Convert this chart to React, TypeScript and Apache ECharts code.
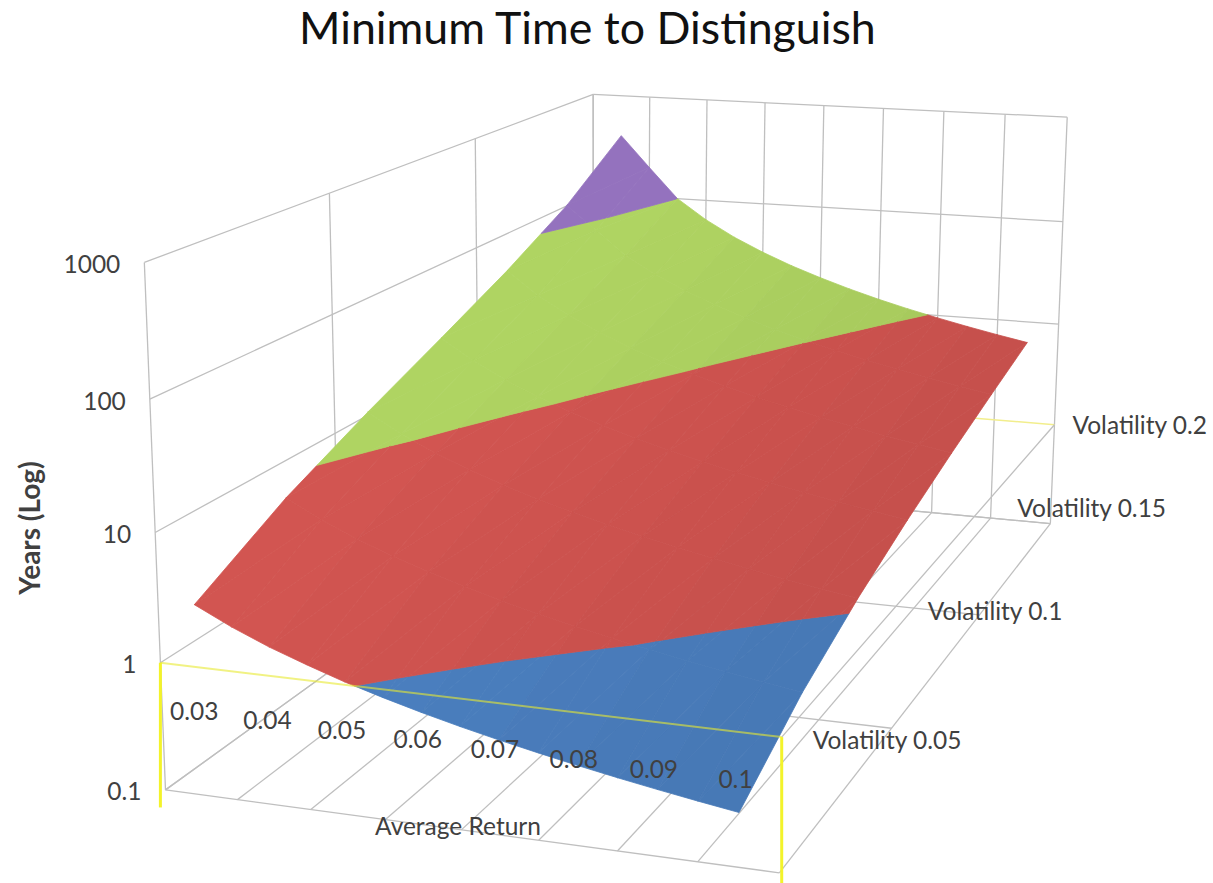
import React, { useEffect, useRef } from "react";
import * as echarts from "echarts";

// Tick labels of the three axes
const yearTicks = [0.1, 1, 10, 100, 1000];
const returnLabels = ["0.03", "0.04", "0.05", "0.06", "0.07", "0.08", "0.09", "0.1"];
const volatilityLabels = ["Volatility 0.05", "Volatility 0.1", "Volatility 0.15", "Volatility 0.2"];

// Mesh positions of the surface
const meshReturns = [0.03, 0.035, 0.04, 0.045, 0.05, 0.055, 0.06, 0.065, 0.07, 0.075, 0.08, 0.085, 0.09, 0.095, 0.1];
const meshVolatilities = [0.05, 0.075, 0.1, 0.125, 0.15, 0.175, 0.2];

// Years needed, one list per volatility, in order of average return
const yearsVol050 = [3.02, 2.19, 1.66, 1.31, 1.05, 0.865, 0.724, 0.615, 0.529, 0.46, 0.403, 0.356, 0.317, 0.284, 0.256];
const yearsVol075 = [7.61, 5.43, 4.07, 3.16, 2.53, 2.07, 1.72, 1.45, 1.25, 1.08, 0.944, 0.833, 0.74, 0.662, 0.596];
const yearsVol100 = [16, 11.1, 8.16, 6.25, 4.94, 4, 3.31, 2.78, 2.37, 2.04, 1.78, 1.56, 1.38, 1.23, 1.11];
const yearsVol125 = [31.7, 21.1, 15.1, 11.3, 8.78, 7.02, 5.74, 4.78, 4.04, 3.46, 3, 2.62, 2.31, 2.06, 1.84];
const yearsVol150 = [64, 39.9, 27.2, 19.8, 15, 11.8, 9.47, 7.79, 6.52, 5.54, 4.76, 4.14, 3.63, 3.21, 2.86];
const yearsVol175 = [142, 85, 50.3, 34.7, 25.5, 19.4, 15.3, 12.4, 10.2, 8.6, 7.32, 6.31, 5.49, 4.82, 4.27];
const yearsVol200 = [400, 198, 100, 64, 44.4, 32.7, 25, 19.8, 16, 13.2, 11.1, 9.47, 8.16, 7.11, 6.25];
const yearRows = [yearsVol050, yearsVol075, yearsVol100, yearsVol125, yearsVol150, yearsVol175, yearsVol200];

// One colour per decade of the log axis
const bandColors = [
  [74, 126, 190],
  [206, 83, 79],
  [172, 208, 96],
  [145, 112, 186],
];

const FONT = "Lato, 'Open Sans', sans-serif";
const TEXT = "#404040";

// Camera calibration of the 3D box. Each entry is [u, v, h, screen x, screen y]:
// u runs along the return axis, v along the volatility axis, h counts decades
// above the lowest tick.
const cameraAnchors = [
  [0, 0, 0, 165, 790], [0, 0, 1, 160, 662], [0, 0, 2, 155, 532], [0, 0, 3, 150, 398], [0, 0, 4, 145, 263],
  [0, 1 / 3, 4, 329, 193], [0, 2 / 3, 4, 476, 138], [0, 1, 4, 593, 93], [0, 1, 3, 593, 197],
  [1 / 8, 1, 4, 650, 96], [2 / 8, 1, 4, 707, 99], [3 / 8, 1, 4, 765, 102], [4 / 8, 1, 4, 823, 107],
  [5 / 8, 1, 4, 883, 110], [6 / 8, 1, 4, 943, 112], [7 / 8, 1, 4, 1005, 114],
  [1, 1, 4, 1068, 116], [1, 1, 3, 1064, 222], [1, 1, 2, 1059, 324], [1, 1, 1, 1055, 425], [1, 1, 0, 1050, 523],
  [1, 0, 0, 780, 873], [1, 0, 1, 780, 737],
  [1 / 8, 0, 0, 237, 800], [2 / 8, 0, 0, 310, 810], [3 / 8, 0, 0, 387, 820], [4 / 8, 0, 0, 463, 830],
  [5 / 8, 0, 0, 540, 840], [6 / 8, 0, 0, 617, 851], [7 / 8, 0, 0, 697, 862],
  [1, 1 / 3, 0, 890, 730], [1, 2 / 3, 0, 980, 613], [7 / 8, 1, 0, 990, 518], [6 / 8, 1, 0, 932, 512],
];

function solveLinear(m: number[][], r: number[]) {
  const n = r.length;
  const a = m.map((row, i) => [...row, r[i]]);
  for (let i = 0; i < n; i++) {
    let p = i;
    for (let k = i + 1; k < n; k++) if (Math.abs(a[k][i]) > Math.abs(a[p][i])) p = k;
    [a[i], a[p]] = [a[p], a[i]];
    for (let k = 0; k < n; k++) {
      if (k === i) continue;
      const s = a[k][i] / a[i][i];
      for (let c = i; c <= n; c++) a[k][c] -= s * a[i][c];
    }
  }
  return a.map((row, i) => row[n] / row[i]);
}

// Least squares fit of the 3x4 projective matrix over the anchors
function buildCamera() {
  const ata = Array.from({ length: 11 }, () => new Array(11).fill(0));
  const atb = new Array(11).fill(0);
  const add = (row: number[], rhs: number) => {
    for (let i = 0; i < 11; i++) {
      atb[i] += row[i] * rhs;
      for (let j = 0; j < 11; j++) ata[i][j] += row[i] * row[j];
    }
  };
  cameraAnchors.forEach(([u, v, h, x, y]) => {
    add([u, v, h, 1, 0, 0, 0, 0, -x * u, -x * v, -x * h], x);
    add([0, 0, 0, 0, u, v, h, 1, -y * u, -y * v, -y * h], y);
  });
  const p = solveLinear(ata, atb);
  return (u: number, v: number, h: number): number[] => {
    const w = p[8] * u + p[9] * v + p[10] * h + 1;
    return [
      (p[0] * u + p[1] * v + p[2] * h + p[3]) / w,
      (p[4] * u + p[5] * v + p[6] * h + p[7]) / w,
    ];
  };
}

const project = buildCamera();
const nU = returnLabels.length;
const nV = volatilityLabels.length;
const nH = yearTicks.length - 1;
const decade = (years: number) => Math.log10(years) - Math.log10(yearTicks[0]);

// Categories sit in the middle of their tick interval along the return axis
const returnToU = (r: number) => ((r - meshReturns[0]) / 0.01 + 0.5) / nU;
const volatilityToV = (s: number) =>
  (s - meshVolatilities[0]) / (meshVolatilities[meshVolatilities.length - 1] - meshVolatilities[0]);

type P3 = number[];

// Keeps the part of a triangle lying between two height levels
function clipBand(tri: P3[], lo: number, hi: number): P3[] {
  const clip = (poly: P3[], level: number, keepAbove: boolean) => {
    const out: P3[] = [];
    poly.forEach((p, i) => {
      const q = poly[(i + 1) % poly.length];
      const pIn = keepAbove ? p[2] >= level : p[2] <= level;
      const qIn = keepAbove ? q[2] >= level : q[2] <= level;
      if (pIn) out.push(p);
      if (pIn !== qIn) {
        const t = (level - p[2]) / (q[2] - p[2]);
        out.push([p[0] + t * (q[0] - p[0]), p[1] + t * (q[1] - p[1]), level]);
      }
    });
    return out;
  };
  return clip(clip(tri, lo, true), hi, false);
}

// Frame segments: [u0, v0, h0, u1, v1, h1, kind]
type Seg = [number, number, number, number, number, number, string];
const backSegs: Seg[] = [];
for (let i = 0; i <= nU; i++) {
  const u = i / nU;
  backSegs.push([u, 0, 0, u, 1, 0, "grid"]);
  backSegs.push([u, 1, 0, u, 1, nH, "grid"]);
}
for (let j = 0; j < nV; j++) {
  const v = j / (nV - 1);
  backSegs.push([0, v, 0, 1, v, 0, "grid"]);
  backSegs.push([0, v, 0, 0, v, nH, "grid"]);
}
for (let k = 0; k <= nH; k++) {
  backSegs.push([0, 0, k, 0, 1, k, "grid"]);
  backSegs.push([0, 1, k, 1, 1, k, k === 1 ? "paleYellow" : "grid"]);
}
backSegs.push([1, 0, 1, 1, 1, 1, "grid"]);

const frontSegs: Seg[] = [
  [0, 0, 1, 1, 0, 1, "overlayYellow"],
  [0, 0, 1, 0, 0, -0.14, "yellow"],
  [1, 0, 1, 1, 0, -0.14, "yellow"],
];

const segStyles: Record<string, any> = {
  grid: { stroke: "#bfbfbf", lineWidth: 1.3 },
  paleYellow: { stroke: "#f2ee8c", lineWidth: 1.5 },
  overlayYellow: { stroke: "#e8ea30", lineWidth: 2, opacity: 0.6 },
  yellow: { stroke: "#f3f32a", lineWidth: 3 },
};

function renderSegments(segs: Seg[]) {
  return (_: any, api: any) => {
    const s = segs[api.value(0)];
    const a = project(s[0], s[1], s[2]);
    const b = project(s[3], s[4], s[5]);
    // The yellow drop lines hang plumb from their top point
    const x2 = s[6] === "yellow" ? a[0] : b[0];
    return {
      type: "line",
      shape: { x1: a[0], y1: a[1], x2, y2: b[1] },
      style: { ...segStyles[s[6]], fill: "none" },
    };
  };
}

// Each mesh cell is split in two triangles and cut into decade bands
function renderCell(_: any, api: any) {
  const i = api.value(0);
  const j = api.value(1);
  const corner = (a: number, b: number): P3 => [
    returnToU(meshReturns[a]),
    volatilityToV(meshVolatilities[b]),
    decade(yearRows[b][a]),
  ];
  const p00 = corner(i, j), p10 = corner(i + 1, j), p11 = corner(i + 1, j + 1), p01 = corner(i, j + 1);
  // Facets get a little darker in steps toward the high-return side
  const shade = 1.02 - (0.06 * Math.floor(i / 2)) / 6;
  const children: any[] = [];
  [[p00, p10, p11], [p00, p11, p01]].forEach((tri) => {
    bandColors.forEach((rgb, band) => {
      const poly = clipBand(tri, band, band + 1);
      if (poly.length < 3) return;
      const c = `rgb(${rgb.map((x) => Math.min(255, Math.round(x * shade))).join(",")})`;
      children.push({
        type: "polygon",
        shape: { points: poly.map((p) => project(p[0], p[1], p[2])) },
        style: { fill: c, stroke: c, lineWidth: 0.8 },
      });
    });
  });
  return { type: "group", children };
}

const cells: number[][] = [];
for (let j = 0; j < meshVolatilities.length - 1; j++) {
  for (let i = 0; i < meshReturns.length - 1; i++) cells.push([i, j]);
}

// Axis texts, placed relative to the projected axis positions
const volatilityOffsets = [[31, 2], [33, 3], [34, 1], [18, 0]];
const LABEL_SIZE = 24.5;

function textItem(text: string, x: number, y: number, size: number, align = "center", extra: any = {}) {
  return {
    type: "text",
    x,
    y,
    ...extra,
    style: {
      text,
      x: 0,
      y: 0,
      fill: TEXT,
      align,
      verticalAlign: "middle",
      font: `${extra.weight || "normal"} ${size}px ${FONT}`,
    },
  };
}

function buildTexts() {
  const out: any[] = [];
  yearTicks.forEach((t, k) => {
    const p = project(0, 0, k);
    out.push(textItem(String(t), p[0] - 24, p[1] + 1, LABEL_SIZE, "right"));
  });
  returnLabels.forEach((t, i) => {
    const p = project((i + 0.5) / nU, 0, 0.66);
    out.push(textItem(t, p[0] - 4, p[1], LABEL_SIZE));
  });
  volatilityLabels.forEach((t, j) => {
    const p = project(1, j / (nV - 1), 1);
    out.push(textItem(t, p[0] + volatilityOffsets[j][0], p[1] + volatilityOffsets[j][1], LABEL_SIZE, "left"));
  });
  out.push(textItem("Average Return", 458, 825, LABEL_SIZE));
  out.push(textItem("Years (Log)", 29, 528, 28, "center", { rotation: Math.PI / 2, weight: "bold" }));
  return out;
}

export default function App() {
  const ref = useRef<HTMLDivElement>(null);
  useEffect(() => {
    document.body.style.margin = "0";
    const chart = echarts.init(ref.current!, undefined, { renderer: "svg" });
    const texts = buildTexts();
    chart.setOption({
      animation: false,
      backgroundColor: "#ffffff",
      title: {
        text: "Minimum Time to Distinguish",
        left: 299,
        top: 4,
        padding: 0,
        textStyle: { fontFamily: FONT, fontSize: 44.7, fontWeight: "normal", color: "#111111" },
      },
      series: [
        {
          type: "custom",
          coordinateSystem: "none",
          silent: true,
          z: 1,
          data: backSegs.map((_, i) => [i]),
          renderItem: renderSegments(backSegs),
        },
        {
          type: "custom",
          coordinateSystem: "none",
          silent: true,
          z: 2,
          data: cells,
          renderItem: renderCell,
        },
        {
          type: "custom",
          coordinateSystem: "none",
          silent: true,
          z: 3,
          data: frontSegs.map((_, i) => [i]),
          renderItem: renderSegments(frontSegs),
        },
        {
          type: "custom",
          coordinateSystem: "none",
          silent: true,
          z: 4,
          data: texts.map((_, i) => [i]),
          renderItem: (_: any, api: any) => texts[api.value(0)],
        },
      ],
    });
    return () => chart.dispose();
  }, []);
  return <div ref={ref} style={{ width: 1213, height: 883 }} />;
}
